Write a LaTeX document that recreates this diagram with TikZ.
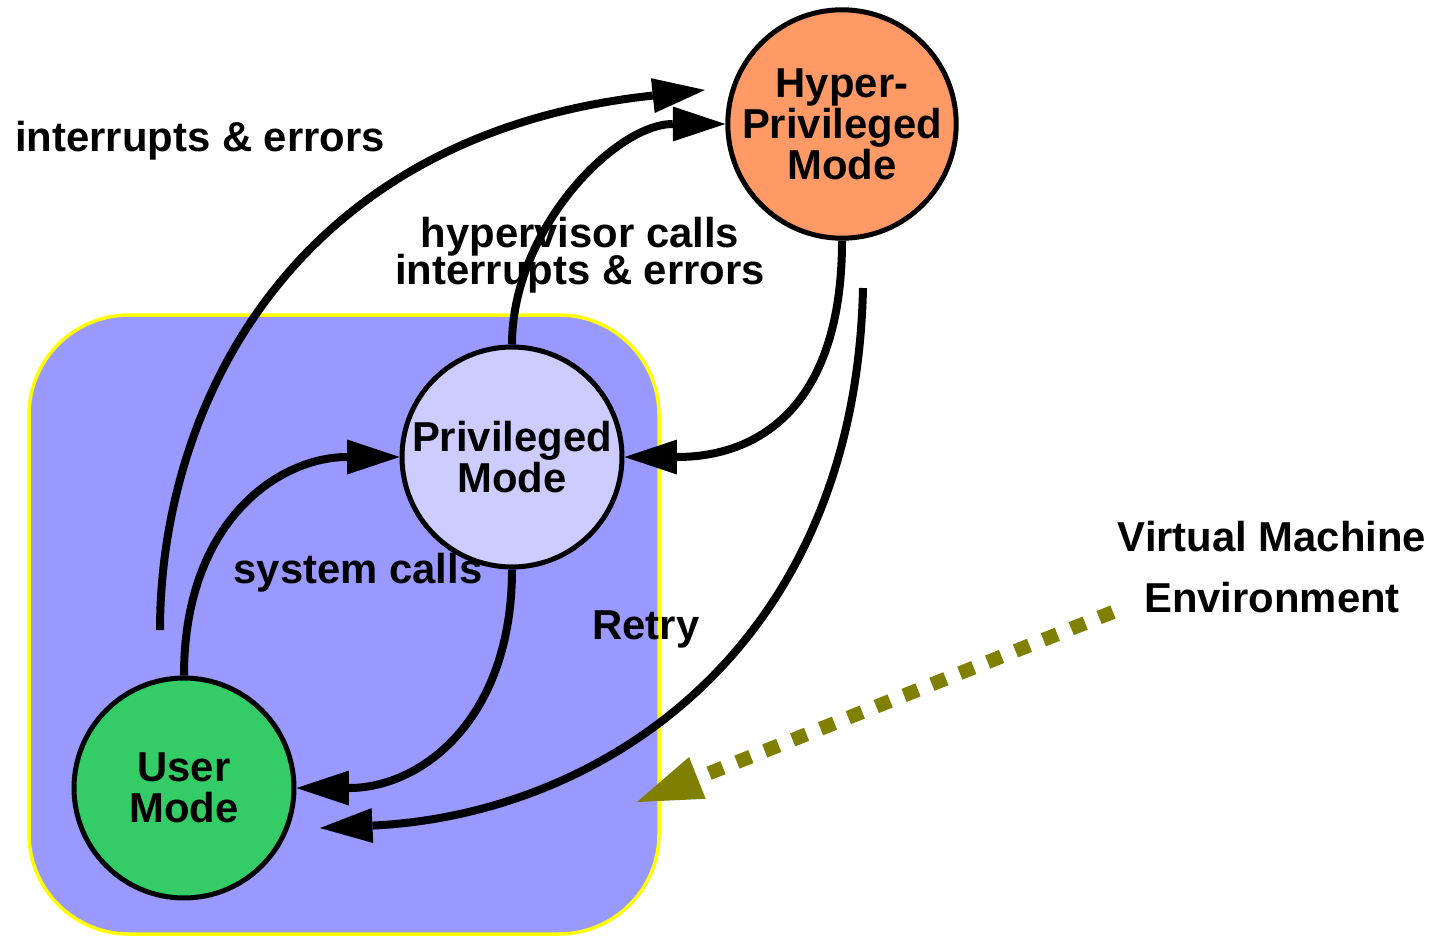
\documentclass[tikz,border=0pt]{standalone}
\usepackage{fontspec}
\setmainfont{Liberation Sans}
\usepackage{xcolor}
\usetikzlibrary{arrows.meta}
\definecolor{UserC}{HTML}{33CC66}
\definecolor{PrivC}{HTML}{CCCCFF}
\definecolor{HypC}{HTML}{FF9966}
\definecolor{VmC}{HTML}{9999FF}
\definecolor{VmEdge}{HTML}{FFFF00}
\definecolor{OliveC}{HTML}{808000}
\newcommand{\modefont}{\fontsize{23.8pt}{23.3pt}\selectfont\bfseries\lineskiplimit=-20pt}
\newcommand{\lblfont}{\fontsize{23.8pt}{21pt}\selectfont\bfseries\lineskiplimit=-20pt}
\newcommand{\vmfont}{\fontsize{23.8pt}{34.2pt}\selectfont\bfseries\lineskiplimit=-20pt}

\tikzset{
  modenode/.style={circle,draw=black,line width=0.1cm,minimum size=4.4cm,
    inner sep=0pt,align=center,font=\modefont},
  flow/.style={line width=0.16cm,
    -{Triangle[length=1.05cm,width=0.7cm,line width=0pt]}},
  lbl/.style={font=\lblfont,align=center,inner sep=0pt},
}

\begin{document}
\begin{tikzpicture}[x=0.02cm,y=-0.02cm]
\useasboundingbox (0,0) rectangle (1435,936);

% ================= the virtual machine box =================
\path[fill=VmC,draw=VmEdge,line width=0.07cm,rounded corners=2cm]
  (29,315) rectangle (659,934);

% ================= the three modes =================
\node[modenode,fill=UserC]  (user)  at (184,788) {User\\Mode};
\node[modenode,fill=PrivC]  (priv)  at (512,457) {Privileged\\Mode};
\node[modenode,fill=HypC]   (hyper) at (842,124) {Hyper-\\Privileged\\Mode};

% free ends
\coordinate (irqA)   at (160,630);
\coordinate (irqB)   at (705,90);
\coordinate (retryA) at (863,288);
\coordinate (retryB) at (320,828);
\coordinate (vmA)    at (1113,612);
\coordinate (vmB)    at (637,802);

% ================= transitions =================
\draw[flow] (irqA) .. controls +(0,-215) and +(-420,45) .. (irqB);
\draw[flow] (user.north) .. controls +(0,-155) and +(-120,0) .. (priv.west);
\draw[flow] (priv.north) .. controls +(0,-115) and +(-110,0) .. (hyper.west);
\draw[flow] (hyper.south) .. controls +(0,165) and +(135,0) .. (priv.east);
\draw[flow] (priv.south) .. controls +(0,150) and +(125,0) .. (user.east);
\draw[flow] (retryA) .. controls +(-8,362) and +(280,-13) .. (retryB);

% pointer to the box
\draw[OliveC,line width=0.28cm,dash pattern=on 0.3cm off 0.3cm,
  -{Triangle[length=1.3cm,width=0.9cm,line width=0pt]}] (vmA) -- (vmB);

% ================= labels =================
\node[lbl,anchor=base] (lirq)  at (200,151) {interrupts \& errors};
\node[lbl,anchor=base] (lhyp)  at (580,284) {hypervisor calls\\interrupts \& errors};
\node[lbl,anchor=base] (lsys)  at (358,583) {system calls};
\node[lbl,anchor=base] (lret)  at (646,639) {Retry};
\node[lbl,anchor=base,font=\vmfont] (lvm) at (1272,612) {Virtual Machine\\Environment};
\end{tikzpicture}
\end{document}
